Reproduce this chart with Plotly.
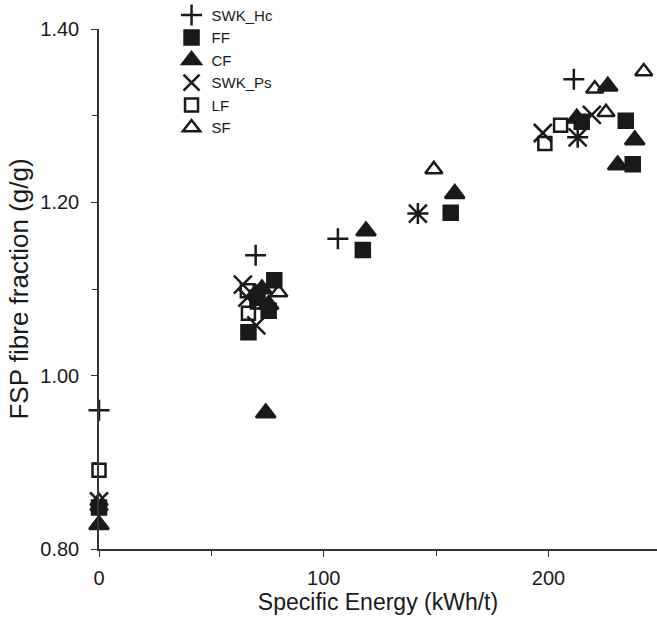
import plotly.graph_objects as go

# Data (x: Specific Energy kWh/t, y: FSP fibre fraction g/g)
swk_hc_x = [0, 69.7, 106.3, 141.9, 211.3, 213.0]
swk_hc_y = [0.960, 1.139, 1.158, 1.187, 1.342, 1.275]

ff_x = [0, 66.5, 75.5, 78.0, 70.5, 117.4, 156.5, 214.8, 234.4, 237.5]
ff_y = [0.848, 1.050, 1.075, 1.110, 1.090, 1.145, 1.188, 1.293, 1.294, 1.244]

cf_x = [0, 74.2, 72.5, 75.5, 118.8, 158.3, 212.6, 226.4, 238.4, 230.8]
cf_y = [0.828, 0.957, 1.100, 1.082, 1.167, 1.210, 1.297, 1.334, 1.272, 1.243]

swk_ps_x = [0, 64.0, 70.0, 66.0, 141.9, 197.5, 219.3, 213.0]
swk_ps_y = [0.855, 1.105, 1.058, 1.090, 1.187, 1.280, 1.301, 1.275]

lf_x = [0, 66.0, 66.5, 70.5, 198.4, 205.4]
lf_y = [0.891, 1.098, 1.072, 1.085, 1.268, 1.289]

sf_x = [0, 69.7, 80.0, 149.0, 220.6, 225.6, 242.4]
sf_y = [0.855, 1.096, 1.096, 1.238, 1.331, 1.304, 1.351]

series = [
    ("SWK_Hc", swk_hc_x, swk_hc_y, "cross-thin", 15),
    ("FF", ff_x, ff_y, "square", 14),
    ("CF", cf_x, cf_y, "triangle-up", 17),
    ("SWK_Ps", swk_ps_x, swk_ps_y, "x-thin", 18),
    ("LF", lf_x, lf_y, "square-open", 13),
    ("SF", sf_x, sf_y, "triangle-up-open", 15),
]

FONT = "Liberation Sans, Arial, sans-serif"
INK = "#1a1a1a"

fig = go.Figure()
for name, xs, ys, sym, sz in series:
    fig.add_trace(go.Scatter(
        x=xs, y=ys, mode="markers", name=name, cliponaxis=False,
        marker=dict(symbol=sym, size=sz, color=INK,
                    line=dict(color=INK, width=2.5)),
    ))

fig.update_layout(
    width=657, height=638,
    margin=dict(l=99, r=0, t=29, b=89, autoexpand=False),
    paper_bgcolor="white", plot_bgcolor="white",
    font=dict(family=FONT, size=20, color=INK),
    showlegend=True,
    legend=dict(
        x=0.13, y=1.058, xanchor="left", yanchor="top",
        bgcolor="rgba(0,0,0,0)", borderwidth=0,
        font=dict(family=FONT, size=15, color=INK),
        tracegroupgap=0, itemwidth=30,
    ),
)

fig.update_xaxes(
    range=[0, 248.3], showgrid=False, zeroline=False,
    showline=True, linecolor="#333", linewidth=1.5,
    ticks="outside", ticklen=6, tickwidth=1.3, tickcolor="#333",
    tickvals=[0, 100, 200], ticktext=["0", "100", "200"],
    ticklabelstandoff=4,
    minor=dict(tickvals=[50, 150], ticks="outside", ticklen=5, tickwidth=1.2, tickcolor="#333"),
    title=dict(text="Specific Energy (kWh/t)", font=dict(size=23), standoff=1),
)

fig.update_yaxes(
    range=[0.80, 1.40], showgrid=False, zeroline=False,
    showline=True, linecolor="#333", linewidth=1.5,
    ticks="outside", ticklen=6, tickwidth=1.3, tickcolor="#333",
    tickvals=[0.80, 1.00, 1.20, 1.40], ticktext=["0.80", "1.00", "1.20", "1.40"],
    ticklabelstandoff=8,
    minor=dict(tickvals=[0.90, 1.10, 1.30], ticks="outside", ticklen=5, tickwidth=1.2, tickcolor="#333"),
    title=dict(text="FSP fibre fraction (g/g)", font=dict(size=26), standoff=4),
)

fig.write_html("out.html")
